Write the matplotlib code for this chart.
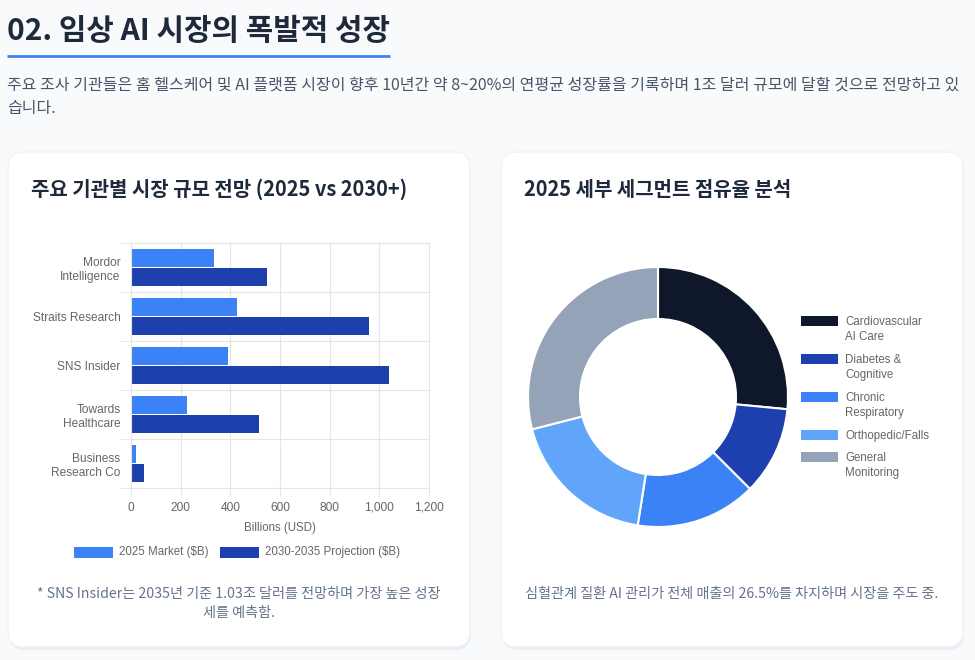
import matplotlib
matplotlib.use("Agg")
import matplotlib.pyplot as plt
from matplotlib.patches import FancyBboxPatch, Rectangle
import numpy as np

plt.rcParams["font.family"] = ["Noto Sans CJK KR", "DejaVu Sans"]

# ---------------- data ----------------
institutions = ["Mordor\nIntelligence", "Straits Research", "SNS Insider",
                "Towards\nHealthcare", "Business\nResearch Co"]
market_2025 = [335, 425, 390, 226, 21]
projection_2035 = [546, 958, 1039, 517, 51]
bar_series = ["2025 Market ($B)", "2030-2035 Projection ($B)"]
x_ticks = [0, 200, 400, 600, 800, 1000, 1200]

segments = ["Cardiovascular\nAI Care", "Diabetes &\nCognitive", "Chronic\nRespiratory",
            "Orthopedic/Falls", "General\nMonitoring"]
segment_share = [26.5, 11, 15, 18.5, 29]

page_title = "02. 임상 AI 시장의 폭발적 성장"
intro_lines = ["주요 조사 기관들은 홈 헬스케어 및 AI 플랫폼 시장이 향후 10년간 약 8~20%의 연평균 성장률을 기록하며 1조 달러 규모에 달할 것으로 전망하고 있",
               "습니다."]
left_title = "주요 기관별 시장 규모 전망 (2025 vs 2030+)"
right_title = "2025 세부 세그먼트 점유율 분석"
left_note = ["* SNS Insider는 2035년 기준 1.03조 달러를 전망하며 가장 높은 성장", "세를 예측함."]
right_note = "심혈관계 질환 AI 관리가 전체 매출의 26.5%를 차지하며 시장을 주도 중."

bar_colors = ["#3b82f6", "#1e40af"]
pie_colors = ["#0f172a", "#1e40af", "#3b82f6", "#60a5fa", "#94a3b8"]

W, H = 975, 660
fig = plt.figure(figsize=(W / 100, H / 100), dpi=100)
fig.patch.set_facecolor("#f8fafc")

# background layer in pixel coords
bg = fig.add_axes([0, 0, 1, 1], zorder=-1)
bg.set_xlim(0, W)
bg.set_ylim(H, 0)
bg.axis("off")

bg.text(7, 31, page_title, fontsize=21.5, fontweight="bold", color="#1e293b", va="center")
bg.plot([7, 390], [56, 56], color="#3b82f6", lw=2, solid_capstyle="butt")
for i, line in enumerate(intro_lines):
    bg.text(7, 85 + i * 23, line, fontsize=11.5, color="#475569", va="center")

for x0 in (8, 501):
    bg.add_patch(FancyBboxPatch((x0 + 1, 155), 462, 495, boxstyle="round,pad=0,rounding_size=16",
                                fc="#e2e8f0", ec="none", alpha=0.6))
    bg.add_patch(FancyBboxPatch((x0, 152), 462, 495, boxstyle="round,pad=0,rounding_size=16",
                                fc="white", ec="#eef2f6", lw=0.8))

bg.text(31, 189, left_title, fontsize=14.4, fontweight="bold", color="#1e293b", va="center")
bg.text(524, 189, right_title, fontsize=14.4, fontweight="bold", color="#1e293b", va="center")

for i, line in enumerate(left_note):
    bg.text(239, 594 + i * 19, line, fontsize=10.2, color="#64748b", style="italic",
            ha="center", va="center")
bg.text(732, 594, right_note, fontsize=10.2, color="#64748b", style="italic",
        ha="center", va="center")

# bar legend
lx = 74
for name, col in zip(bar_series, bar_colors):
    bg.add_patch(Rectangle((lx, 547), 39, 11, fc=col, ec="none"))
    bg.text(lx + 45, 552.5, name, fontsize=8.3, color="#666666", va="center",
            family="Liberation Sans")
    lx += 146

# ---------------- horizontal bar chart ----------------
ax = fig.add_axes([131 / W, (H - 488) / H, 298 / W, 245 / H])
y = np.arange(len(institutions))
ax.barh(y - 0.2, market_2025, height=0.36, color=bar_colors[0], label=bar_series[0])
ax.barh(y + 0.2, projection_2035, height=0.36, color=bar_colors[1], label=bar_series[1])
ax.set_ylim(len(institutions) - 0.5, -0.5)
ax.set_xlim(0, 1200)
ax.set_xticks(x_ticks)
ax.set_xticklabels([f"{v:,}" for v in x_ticks])
ax.set_yticks(y)
ax.set_yticklabels(institutions)
ax.set_yticks(np.arange(len(institutions) + 1) - 0.5, minor=True)
ax.grid(axis="x", color="#e5e5e5", lw=0.8)
ax.grid(axis="y", which="minor", color="#e5e5e5", lw=0.8)
ax.set_axisbelow(True)
ax.tick_params(axis="y", which="major", length=0, pad=7.5)
ax.tick_params(axis="y", which="minor", length=8, color="#e5e5e5")
ax.tick_params(axis="x", length=6, color="#e5e5e5", pad=4)
for lab in ax.get_xticklabels() + ax.get_yticklabels():
    lab.set_family("Liberation Sans")
    lab.set_fontsize(8.6)
    lab.set_color("#666666")
for s in ax.spines.values():
    s.set_color("#e5e5e5")
ax.set_xlabel("Billions (USD)", fontsize=8.3, color="#666666", family="Liberation Sans", labelpad=6)
ax.set_facecolor("white")

# ---------------- donut chart ----------------
pax = fig.add_axes([528 / W, (H - 527) / H, 260 / W, 260 / H])
pax.pie(segment_share, colors=pie_colors, startangle=90, counterclock=False, radius=1,
        wedgeprops=dict(width=0.4, edgecolor="white", linewidth=1.5))
pax.set_xlim(-1, 1)
pax.set_ylim(-1, 1)
pax.set_aspect("equal")

# donut legend
ly = 321
for name, col in zip(segments, pie_colors):
    bg.add_patch(Rectangle((801, ly - 5), 37, 10, fc=col, ec="none"))
    bg.text(845, ly - 5, name, fontsize=8.3, color="#666666", va="top", linespacing=1.3,
            family="Liberation Sans")
    ly += 38 if "\n" in name else 22

fig.savefig("out.png", dpi=100, facecolor=fig.get_facecolor())
